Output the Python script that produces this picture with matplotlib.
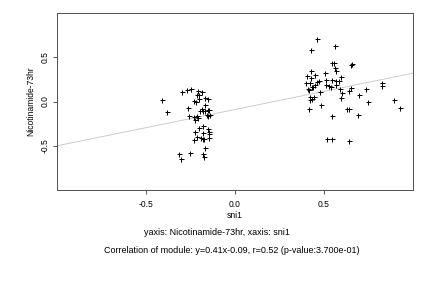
import numpy as np
import matplotlib
matplotlib.use("Agg")
import matplotlib.pyplot as plt

plt.rcParams['font.family'] = ['Liberation Sans', 'DejaVu Sans']

# sni1 values (x) and Nicotinamide-73hr values (y)
sni1 = [
    -0.408, -0.380, -0.296, -0.268, -0.246, -0.206, -0.184, -0.212, -0.201, -0.230,
    -0.221, -0.201, -0.167, -0.150, -0.167, -0.262, -0.197, -0.187, -0.178, -0.167,
    -0.153, -0.144, -0.159, -0.150, -0.140, -0.257, -0.230, -0.215, -0.206, -0.225,
    -0.178, -0.201, -0.150, -0.223, -0.148, -0.144, -0.178, -0.212, -0.193, -0.181,
    -0.174, -0.148, -0.229, -0.167, -0.251, -0.313, -0.302, -0.178, -0.172,
    0.462, 0.564, 0.429, 0.547, 0.558, 0.650, 0.659, 0.564, 0.569, 0.429,
    0.406, 0.451, 0.429, 0.507, 0.597, 0.586, 0.399, 0.421, 0.462, 0.474,
    0.451, 0.513, 0.547, 0.566, 0.513, 0.530, 0.569, 0.440, 0.433, 0.410,
    0.417, 0.541, 0.592, 0.650, 0.642, 0.828, 0.828, 0.738, 0.478, 0.601,
    0.699, 0.421, 0.444, 0.433, 0.421, 0.597, 0.749, 0.895, 0.481, 0.417,
    0.631, 0.642, 0.929, 0.693, 0.547, 0.519, 0.547, 0.642,
]
nicotinamide = [
    0.019, -0.113, 0.102, 0.135, 0.147, 0.124, 0.102, 0.068, 0.068, 0.011,
    -0.003, 0.023, 0.045, 0.030, -0.034, -0.071, -0.102, -0.090, -0.102, -0.110,
    -0.100, -0.100, -0.150, -0.160, -0.150, -0.158, -0.177, -0.169, -0.184, -0.214,
    -0.271, -0.301, -0.312, -0.339, -0.347, -0.365, -0.359, -0.395, -0.410, -0.425,
    -0.421, -0.414, -0.437, -0.530, -0.576, -0.598, -0.651, -0.598, -0.621,
    0.711, 0.632, 0.583, 0.440, 0.440, 0.410, 0.421, 0.380, 0.339, 0.350,
    0.293, 0.305, 0.267, 0.327, 0.274, 0.233, 0.214, 0.214, 0.222, 0.229,
    0.192, 0.245, 0.248, 0.237, 0.192, 0.177, 0.192, 0.169, 0.161, 0.139,
    0.128, 0.161, 0.139, 0.158, 0.124, 0.211, 0.173, 0.143, 0.105, 0.094,
    0.079, 0.056, 0.056, 0.026, 0.019, 0.042, -0.011, 0.019, -0.034, -0.083,
    -0.079, -0.090, -0.071, -0.147, -0.169, -0.418, -0.425, -0.451,
]

slope = 0.41
intercept = -0.09
ticks = [-0.5, 0.0, 0.5]

fig = plt.figure(figsize=(6, 4), dpi=72)
ax = fig.add_axes([0.132, 0.340, 0.824, 0.615])

line_x = np.array([-1.0, 1.0])
ax.plot(line_x, slope * line_x + intercept, color='#c8c8c8', lw=0.9, zorder=1)
ax.plot(sni1, nicotinamide, linestyle='none', marker='+', color='black',
        markersize=5, markeredgewidth=1.0, zorder=2)

ax.set_xlim(-1, 1)
ax.set_ylim(-1, 1)
ax.set_xticks(ticks)
ax.set_yticks(ticks)
ax.set_xticklabels(['-0.5', '0.0', '0.5'], fontsize=8.5)
ax.set_yticklabels(['-0.5', '0.0', '0.5'], fontsize=8.5, rotation=90, va='center')
ax.tick_params(direction='out', length=4, width=0.8, color='#333333')
ax.tick_params(axis='x', pad=6)
ax.tick_params(axis='y', pad=3)
for s in ax.spines.values():
    s.set_color('#555555')
    s.set_linewidth(1.0)

ax.set_xlabel('sni1', fontsize=8.5, labelpad=2)
ax.set_ylabel('Nicotinamide-73hr', fontsize=8.5, labelpad=6)

fig.text(217, 288 - 232.5, 'yaxis: Nicotinamide-73hr, xaxis: sni1', fontsize=9,
         ha='center', va='center', transform=None)
fig.text(232, 288 - 250.5, 'Correlation of module: y=0.41x-0.09, r=0.52 (p-value:3.700e-01)',
         fontsize=9, ha='center', va='center', transform=None)

fig.savefig('out.png', dpi=72)
